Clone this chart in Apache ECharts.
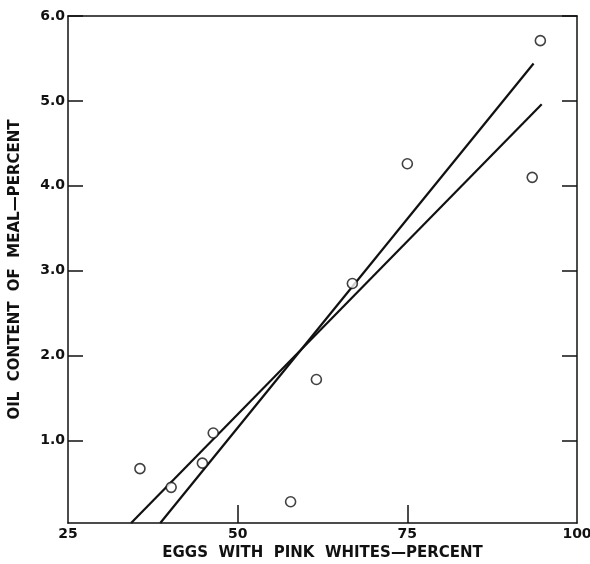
<!DOCTYPE html>
<html>
<head>
<meta charset="utf-8">
<script src="https://cdn.jsdelivr.net/npm/echarts@6/dist/echarts.min.js"></script>
<style>
html,body{margin:0;padding:0;background:#fff;}
#chart{width:590px;height:564px;}
</style>
</head>
<body>
<div id="chart"></div>
<script>
// Observed points: eggs with pink whites (%) vs oil content of meal (%)
var pointX = [35.6, 40.2, 44.8, 46.4, 57.8, 61.6, 66.9, 75.0, 93.4, 94.6];
var pointY = [0.67, 0.45, 0.735, 1.09, 0.28, 1.72, 2.85, 4.26, 4.10, 5.71];
// Two fitted lines (endpoints)
var lineAX = [34.3, 94.8];
var lineAY = [0.03, 4.96];
var lineBX = [38.6, 93.6];
var lineBY = [0.03, 5.44];
var xTicks = [25, 50, 75, 100];
var yTicks = [1, 2, 3, 4, 5, 6];

function pairs(xs, ys){ return xs.map(function(x,i){ return [x, ys[i]]; }); }

var font = 'DejaVu Sans';
var chart = echarts.init(document.getElementById('chart'), null, {renderer:'canvas'});
var axisLine = {show:true, onZero:false, lineStyle:{color:'#111', width:1.5}};
chart.setOption({
  animation:false,
  backgroundColor:'#fff',
  grid:{left:68, right:13, top:16, bottom:41, outerBoundsMode:'none', containLabel:false},
  xAxis:[{
    type:'value', min:25, max:100, position:'bottom',
    name:'EGGS  WITH  PINK  WHITES\u2014PERCENT', nameLocation:'middle', nameGap:19,
    nameTextStyle:{fontFamily:font, fontWeight:'bold', fontSize:15, color:'#111'},
    axisLine:axisLine,
    axisTick:{show:true, inside:true, length:18, customValues:[50,75], lineStyle:{color:'#111', width:1.5}},
    axisLabel:{show:true, customValues:xTicks, margin:4, fontFamily:font, fontWeight:'bold', fontSize:14, color:'#111'},
    splitLine:{show:false}
  },{
    type:'value', min:25, max:100, position:'top',
    axisLine:axisLine, axisTick:{show:false}, axisLabel:{show:false}, splitLine:{show:false}
  }],
  yAxis:[{
    type:'value', min:0.03, max:6, position:'left',
    name:'OIL  CONTENT  OF  MEAL\u2014PERCENT', nameLocation:'middle', nameGap:45,
    nameTextStyle:{fontFamily:font, fontWeight:'bold', fontSize:15, color:'#111'},
    axisLine:axisLine,
    axisTick:{show:true, inside:true, length:15, customValues:yTicks, lineStyle:{color:'#111', width:1.5}},
    axisLabel:{show:true, customValues:yTicks, margin:3, fontFamily:font, fontWeight:'bold', fontSize:14, color:'#111',
      formatter:function(v){ return v.toFixed(1); }},
    splitLine:{show:false}
  },{
    type:'value', min:0.03, max:6, position:'right',
    axisLine:axisLine,
    axisTick:{show:true, inside:true, length:15, customValues:yTicks, lineStyle:{color:'#111', width:1.5}},
    axisLabel:{show:false}, splitLine:{show:false}
  }],
  series:[
    {type:'line', data:pairs(lineAX, lineAY), symbol:'none', lineStyle:{color:'#111', width:2.2}, z:3},
    {type:'line', data:pairs(lineBX, lineBY), symbol:'none', lineStyle:{color:'#111', width:2.2}, z:3},
    {type:'scatter', data:pairs(pointX, pointY), symbol:'circle', symbolSize:10,
      itemStyle:{color:'#fff', borderColor:'#111', borderWidth:1.6}, z:4}
  ]
});
</script>
</body>
</html>
